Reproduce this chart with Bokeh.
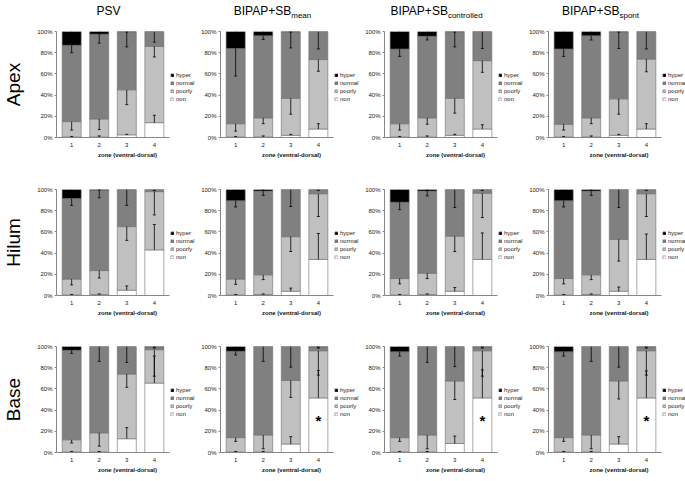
from bokeh.plotting import figure
from bokeh.models import (Range1d, FixedTicker, PrintfTickFormatter, Legend, LegendItem,
                          ColumnDataSource, Div)
from bokeh.layouts import column, row
from bokeh.core.properties import value
from bokeh.embed import file_html
from bokeh.resources import INLINE

# ---------------- data ----------------
zones = [1, 2, 3, 4]
regions = ["Apex", "Hilum", "Base"]
mode_main = ["PSV", "BIPAP+SB", "BIPAP+SB", "BIPAP+SB"]
mode_sub = ["", "mean", "controlled", "spont"]
stack_order = ["non", "poorly", "normal", "hyper"]      # bottom -> top
legend_order = ["hyper", "normal", "poorly", "non"]
y_ticks = [0, 20, 40, 60, 80, 100]
x_title = "zone (ventral-dorsal)"

# values in % ; outer index = ventilation mode, inner = zone 1..4
apex_non    = [[0.5, 0.5, 2.5, 14], [0.5, 0.5, 2, 8], [0.5, 0.5, 2, 8], [0.5, 0.5, 2, 8]]
apex_poorly = [[14.5, 17, 42.5, 72], [12.5, 18, 35, 65.5], [12.5, 18, 35, 64.5], [12, 18, 34.5, 66]]
apex_normal = [[72, 80, 54.5, 14], [71, 77.5, 62.5, 26.5], [70.5, 77, 62.5, 27.5], [71, 77.5, 63, 26]]
apex_hyper  = [[13, 2.5, 0.5, 0], [16, 4, 0.5, 0], [16.5, 4.5, 0.5, 0], [16.5, 4, 0.5, 0]]
apex_non_sd    = [[0.5, 1, 0.5, 7], [0.5, 1, 1, 5], [0.5, 1, 1, 4], [0.5, 1, 1, 5]]
apex_poorly_sd = [[8, 10, 14, 10], [7, 5.5, 15, 11], [6, 6, 14, 11], [5.5, 5.5, 14.5, 12]]
apex_normal_sd = [[7, 8.5, 14, 10], [26, 3.5, 15, 16.5], [7, 3.5, 14, 16], [7, 4, 15.5, 16.5]]
apex_hyper_sd  = [[7, 1.5, 0.5, 0], [7, 1, 0.5, 0], [4, 1, 0.5, 0], [4, 1, 0.5, 0]]

hilum_non    = [[0.5, 1, 5, 43], [0.5, 1, 4, 34], [0.5, 1, 4, 34], [0.5, 1, 4, 34]]
hilum_poorly = [[15, 22.5, 60, 55], [15, 18.5, 51.5, 62], [15.5, 20, 52, 62.5], [15.5, 18.5, 49, 62]]
hilum_normal = [[76, 75.7, 35, 2], [74, 79, 44.5, 4], [72, 77.5, 44, 3.5], [73.5, 79, 47, 4]]
hilum_hyper  = [[8.5, 0.8, 0, 0], [10.5, 1.5, 0, 0], [12, 1.5, 0, 0], [10.5, 1.5, 0, 0]]
hilum_non_sd    = [[0.5, 0.5, 4, 24], [0.5, 0.5, 3, 24.5], [0.5, 0.5, 3.5, 25], [0.5, 0.5, 4, 24]]
hilum_poorly_sd = [[5.5, 7, 13, 22], [5, 4.5, 14, 21.5], [5, 5, 14.5, 23], [5, 4.5, 20.5, 21.5]]
hilum_normal_sd = [[6.5, 7, 15, 1], [6, 4, 16, 1], [7, 4.5, 17, 1], [6, 4, 17, 1]]
hilum_hyper_sd  = [[4.5, 0.5, 0, 0], [5, 0.5, 0, 0], [5, 0.5, 0, 0], [5.5, 0.5, 0, 0]]

base_non    = [[0.5, 0.5, 13, 65.5], [0.5, 0.5, 8, 51.5], [0.5, 0.5, 8.5, 51.5], [0.5, 0.5, 8, 51.5]]
base_poorly = [[11.5, 18, 61, 31.5], [13.5, 16, 60, 44.5], [13.5, 16, 59, 44.5], [13.5, 16, 59.5, 44.5]]
base_normal = [[84.5, 81.5, 26, 2.5], [81.5, 83.5, 32, 3.5], [81, 83.5, 32.5, 3.5], [81, 83.5, 32.5, 3.5]]
base_hyper  = [[3.5, 0, 0, 0.5], [4.5, 0, 0, 0.5], [5, 0, 0, 0.5], [5, 0, 0, 0.5]]
base_non_sd    = [[0.5, 0.5, 10.5, 25.5], [0.5, 0.5, 7, 26], [0.5, 0.5, 7, 26.5], [0.5, 0.5, 7, 25.5]]
base_poorly_sd = [[3, 12.5, 12.5, 25], [3.5, 13, 16, 23], [3.5, 13, 17.5, 24], [3.5, 13, 17, 23]]
base_normal_sd = [[3, 14, 15, 1], [3.5, 14, 19.5, 1], [4, 15, 19, 1], [4, 14, 19.5, 1]]
base_hyper_sd  = [[3, 0, 0, 0.5], [3, 0, 0, 0.5], [3, 0, 0, 0.5], [3, 0, 0, 0.5]]

# significance markers (*)
star_region = "Base"
star_modes = [1, 2, 3]
star_zone = [4]
star_y = [30]

values = {
    "Apex": [apex_non, apex_poorly, apex_normal, apex_hyper],
    "Hilum": [hilum_non, hilum_poorly, hilum_normal, hilum_hyper],
    "Base": [base_non, base_poorly, base_normal, base_hyper],
}
errors = {
    "Apex": [apex_non_sd, apex_poorly_sd, apex_normal_sd, apex_hyper_sd],
    "Hilum": [hilum_non_sd, hilum_poorly_sd, hilum_normal_sd, hilum_hyper_sd],
    "Base": [base_non_sd, base_poorly_sd, base_normal_sd, base_hyper_sd],
}

# ---------------- style / layout ----------------
FONT = "Liberation Sans"
fill_colors = ["#ffffff", "#c0c0c0", "#808080", "#000000"]
BAR_W, FRAME_H = 113, 106          # width of the bar area, frame height
X0, X1 = 0.45, 4.55                # data span of the bar area
LEFT = [52, 22, 22, 22]
RIGHT = [29, 29, 29, 28]           # legend area to the right of the bars
TOP = [11, 29, 28]
BOTTOM = [23, 23, 29]


def make_panel(r, c):
    reg = regions[r]
    x_end = X1 + RIGHT[c] * (X1 - X0) / BAR_W
    p = figure(frame_width=BAR_W + RIGHT[c], frame_height=FRAME_H,
               min_border_left=LEFT[c], min_border_right=0,
               min_border_top=TOP[r], min_border_bottom=BOTTOM[r],
               x_range=Range1d(X0, x_end), y_range=Range1d(0, 100),
               output_backend="svg", toolbar_location=None, tools="")
    p.outline_line_color = None
    p.grid.visible = False
    p.background_fill_color = "white"

    data = {"zone": zones}
    for k, name in enumerate(stack_order):
        data[name] = values[reg][k][c]
    src = ColumnDataSource(data)
    rs = p.vbar_stack(stack_order, x="zone", width=0.69, source=src,
                      fill_color=fill_colors, line_color="#6e6e6e", line_width=0.6)

    # error bars (non: upward from its top; others: downward from their top)
    cum = [0.0] * 4
    xs, y0s, y1s = [], [], []
    for k, name in enumerate(stack_order):
        seg = values[reg][k][c]
        sd = errors[reg][k][c]
        for i in range(4):
            t = cum[i] + seg[i]
            if seg[i] > 0 and sd[i] > 0:
                xs.append(zones[i])
                y0s.append(t)
                y1s.append(t + sd[i] if name == "non" else t - sd[i])
            cum[i] = t
    esrc = ColumnDataSource(dict(x=xs, y0=y0s, y1=y1s))
    p.segment(x0="x", y0="y0", x1="x", y1="y1", source=esrc,
              line_color="black", line_width=0.8)
    p.scatter(x="x", y="y1", source=esrc, marker="dash", size=3,
              line_color="black", line_width=0.8)

    if reg == star_region and c in star_modes:
        p.text(x=star_zone, y=star_y, text=["*"], text_font=value(FONT),
               text_font_size="15px", text_font_style="bold",
               text_align="center", text_baseline="middle", text_color="black")

    # axes
    p.xaxis.bounds = (X0, X1)
    p.xaxis.ticker = FixedTicker(ticks=zones)
    p.xaxis.axis_label = x_title
    p.xaxis.axis_label_text_font = FONT
    p.xaxis.axis_label_text_font_size = "6px"
    p.xaxis.axis_label_text_font_style = "bold"
    p.xaxis.axis_label_text_color = "#111111"
    p.xaxis.axis_label_standoff = 2
    p.xaxis.major_label_text_font = FONT
    p.xaxis.major_label_text_font_size = "6px"
    p.xaxis.major_label_text_color = "#222222"
    p.xaxis.major_label_standoff = 5
    p.xaxis.major_tick_out = 0
    p.xaxis.major_tick_in = 0
    p.xaxis.minor_tick_line_color = None
    p.xaxis.axis_line_color = "#868686"

    p.yaxis.ticker = FixedTicker(ticks=y_ticks)
    p.yaxis.formatter = PrintfTickFormatter(format="%d%%")
    p.yaxis.major_label_text_font = FONT
    p.yaxis.major_label_text_font_size = "6px"
    p.yaxis.major_label_text_color = "#222222"
    p.yaxis.major_label_standoff = 2
    p.yaxis.major_tick_out = 2
    p.yaxis.major_tick_in = 0
    p.yaxis.major_tick_line_color = "#868686"
    p.yaxis.minor_tick_line_color = None
    p.yaxis.axis_line_color = "#868686"
    if c == 0:
        p.yaxis.axis_label = reg
        p.yaxis.axis_label_text_font = FONT
        p.yaxis.axis_label_text_font_size = "19px"
        p.yaxis.axis_label_text_font_style = "normal"
        p.yaxis.axis_label_text_color = "black"
        p.yaxis.axis_label_standoff = 10

    # legend in the area right of the bars (inside the frame)
    items = [LegendItem(label=nm, renderers=[rs[stack_order.index(nm)]]) for nm in legend_order]
    leg = Legend(items=items, location=(BAR_W + 1, 35), margin=0, padding=1, spacing=1,
                 glyph_width=4, glyph_height=4, label_height=7, label_standoff=2,
                 label_text_font=FONT, label_text_font_size="6px",
                 label_text_color="#222222",
                 border_line_color=None, background_fill_alpha=0)
    p.add_layout(leg)
    return p


# header with column titles (centred over each bar area)
col_w = [LEFT[c] + BAR_W + RIGHT[c] for c in range(4)]
centers = []
acc = 0
for c in range(4):
    centers.append(acc + LEFT[c] + BAR_W / 2)
    acc += col_w[c]
spans = []
for c in range(4):
    sub = ""
    if mode_sub[c]:
        sub = ('<span style="font-size:8px;vertical-align:-3px">%s</span>' % mode_sub[c])
    spans.append(
        '<span style="position:absolute;left:%.1fpx;top:2px;transform:translateX(-50%%);'
        'white-space:nowrap;font-size:12px;line-height:18px">%s%s</span>'
        % (centers[c], mode_main[c], sub))
total_w = sum(col_w)
header = Div(text='<div style="position:relative;width:%dpx;height:20px;'
                  'font-family:\'Liberation Sans\',Arial,sans-serif;color:#000">' % total_w
                  + "".join(spans) + "</div>",
             width=total_w, height=20, margin=(0, 0, 0, 0))

rows = [row(*[make_panel(r, c) for c in range(4)], spacing=0) for r in range(3)]
layout = column(header, *rows, spacing=0)

open("out.html", "w").write(file_html(layout, INLINE))
